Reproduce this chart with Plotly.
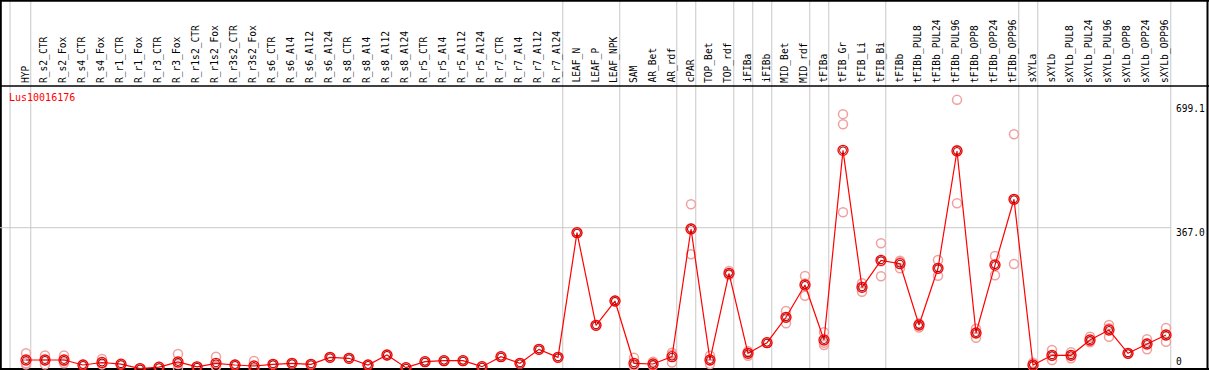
import plotly.graph_objects as go

categories = ["HYP", "R_s2_CTR", "R_s2_Fox", "R_s4_CTR", "R_s4_Fox", "R_r1_CTR", "R_r1_Fox",
              "R_r3_CTR", "R_r3_Fox", "R_r1s2_CTR", "R_r1s2_Fox", "R_r3s2_CTR", "R_r3s2_Fox",
              "R_s6_CTR", "R_s6_Al4", "R_s6_Al12", "R_s6_Al24", "R_s8_CTR", "R_s8_Al4", "R_s8_Al12",
              "R_s8_Al24", "R_r5_CTR", "R_r5_Al4", "R_r5_Al12", "R_r5_Al24", "R_r7_CTR", "R_r7_Al4",
              "R_r7_Al12", "R_r7_Al24", "LEAF_N", "LEAF_P", "LEAF_NPK", "SAM", "AR_Bet", "AR_rdf",
              "cPAR", "TOP_Bet", "TOP_rdf", "iFIBa", "iFIBb", "MID_Bet", "MID_rdf", "tFIBa",
              "tFIB_Gr", "tFIB_Li", "tFIB_Bi", "tFIBb", "tFIBb_PUL8", "tFIBb_PUL24", "tFIBb_PUL96",
              "tFIBb_OPP8", "tFIBb_OPP24", "tFIBb_OPP96", "sXYLa", "sXYLb", "sXYLb_PUL8",
              "sXYLb_PUL24", "sXYLb_PUL96", "sXYLb_OPP8", "sXYLb_OPP24", "sXYLb_OPP96"]

mean_values = [23.4, 23.4, 23.4, 10.4, 16.9, 12.5, 1.0, 4.7, 18.2, 5.7, 14.8, 10.4, 7.8,
               12.2, 14.8, 12.2, 30.3, 27.8, 10.4, 36.4, 3.4, 19.0, 21.6, 21.6, 6.0, 32.0, 14.8,
               51.0, 30.3, 354.0, 113.5, 176.6, 14.8, 13.0, 32.0, 363.6, 23.4, 248.6, 40.8, 68.3,
               134.3, 218.2, 75.3, 568.0, 212.2, 282.3, 273.5, 114.3, 261.6, 566.2, 93.5, 270.0,
               440.8, 10.4, 35.6, 35.6, 75.3, 101.3, 40.8, 64.9, 88.3]

rep1 = [40.8, 35.0, 35.0, 10.0, 26.0, 12.0, 0.5, 4.0, 39.0, 5.0, 32.0, 10.0, 20.8,
        12.0, 14.5, 12.0, 30.0, 27.5, 10.0, 36.0, 3.0, 19.0, 21.0, 21.0, 6.0, 32.0, 14.5,
        51.0, 30.0, 354.0, 113.0, 176.0, 29.0, 19.0, 42.0, 428.0, 34.5, 254.5, 34.5, 68.0,
        150.6, 241.6, 95.3, 662.0, 200.8, 326.5, 281.0, 108.0, 283.0, 699.1, 104.7, 293.5,
        609.6, 16.4, 49.4, 43.4, 83.9, 114.3, 40.0, 77.1, 106.5]
rep2 = [15.0, 12.0, 15.0, 11.0, 12.0, 13.0, 1.0, 5.0, 13.0, 6.0, 6.0, 11.0, 2.0,
        12.5, 15.0, 12.5, 30.5, 28.0, 10.5, 36.5, 3.5, 19.0, 22.0, 22.0, 6.0, 32.0, 15.0,
        51.0, 30.5, 354.0, 114.0, 177.0, 9.0, 8.6, 17.0, 298.0, 13.0, 244.0, 46.0, 69.0,
        118.7, 190.4, 62.3, 635.6, 222.6, 240.8, 261.6, 118.0, 242.3, 430.4, 81.3, 243.4,
        272.7, 7.0, 23.4, 27.8, 69.4, 83.9, 41.0, 51.2, 70.9]
rep3 = [12.0, 23.0, 20.0, 10.0, 13.0, 12.0, 1.5, 5.0, 3.0, 6.0, 7.0, 10.0, 1.0,
        12.0, 15.0, 12.0, 30.0, 28.0, 10.5, 36.0, 3.5, 19.5, 21.5, 21.5, 6.5, 32.0, 15.0,
        51.0, 30.0, 354.0, 113.5, 176.5, 7.0, 11.0, 37.0, 365.0, 23.0, 247.0, 42.0, 68.0,
        134.0, 222.0, 68.0, 407.0, 213.0, 280.0, 278.0, 117.0, 260.0, 569.0, 94.0, 273.0,
        440.0, 8.0, 34.0, 36.0, 72.0, 106.0, 41.0, 66.0, 88.0]

group_edges = [-0.84, 0.25, 28.25, 31.25, 34.25, 35.25, 37.25, 38.25, 39.25, 41.25, 42.25,
               45.25, 52.25, 53.25, 60.25]

gene_label = "Lus10016176"
y_tick_values = [699.1, 367.0, 0]
y_tick_labels = ["699.1", "367.0", "0"]

W, H = 1209, 370
X0, DX = 26.0, 19.0          # pixel of first category, pixel step
Y_ZERO, K = 369.0, 0.385     # pixel of value 0, pixels per unit

x_range = [(0 - X0) / DX, (W - X0) / DX]
y_range = [(Y_ZERO - H) / K, Y_ZERO / K]

xs = list(range(len(categories)))
MONO = "DejaVu Sans Mono"

fig = go.Figure()

rep_x = xs * 3
rep_y = rep1 + rep2 + rep3
fig.add_trace(go.Scatter(
    x=rep_x, y=rep_y, mode="markers",
    marker=dict(symbol="circle-open", size=9, color="#f0a0a0", line=dict(width=1.5)),
    hoverinfo="skip", showlegend=False))

fig.add_trace(go.Scatter(
    x=xs, y=mean_values, mode="lines",
    line=dict(color="#ff0000", width=1.2),
    hoverinfo="skip", showlegend=False))

fig.add_trace(go.Scatter(
    x=xs, y=mean_values, mode="markers",
    marker=dict(symbol="circle-open", size=10, color="#ff0000", line=dict(width=1.3)),
    hoverinfo="skip", showlegend=False))
fig.add_trace(go.Scatter(
    x=xs, y=mean_values, mode="markers",
    marker=dict(symbol="circle-open", size=7, color="#900000", line=dict(width=1)),
    hoverinfo="skip", showlegend=False))

shapes = []
for e in group_edges:
    shapes.append(dict(type="line", xref="x", yref="paper", x0=e, x1=e, y0=0, y1=1,
                       line=dict(color="#c8c8c8", width=1), layer="below"))
# horizontal gridline at 367
shapes.append(dict(type="line", xref="x", yref="y", x0=x_range[0], x1=60.25,
                   y0=y_tick_values[1], y1=y_tick_values[1],
                   line=dict(color="#c8c8c8", width=1), layer="below"))

def px_x(p):
    return p / W

def px_y(p):
    return 1 - p / H

shapes += [
    dict(type="line", xref="paper", yref="paper", x0=px_x(0.8), x1=px_x(0.8), y0=0, y1=1,
         line=dict(color="black", width=2), layer="below"),
    dict(type="line", xref="paper", yref="paper", x0=px_x(1207.5), x1=px_x(1207.5), y0=0, y1=1,
         line=dict(color="black", width=2), layer="below"),
    dict(type="line", xref="paper", yref="paper", x0=0, x1=1, y0=px_y(0.8), y1=px_y(0.8),
         line=dict(color="black", width=2), layer="below"),
    dict(type="line", xref="paper", yref="paper", x0=0, x1=1, y0=px_y(86), y1=px_y(86),
         line=dict(color="black", width=1.5), layer="below"),
    dict(type="line", xref="paper", yref="paper", x0=0, x1=1, y0=px_y(369), y1=px_y(369),
         line=dict(color="black", width=2), layer="below"),
]

annotations = []
for i, c in enumerate(categories):
    annotations.append(dict(x=i, xref="x", y=px_y(84), yref="paper", text=c,
                            textangle=-90, showarrow=False, xanchor="center", yanchor="bottom",
                            xshift=-1, font=dict(family=MONO, size=9.6, color="black"),
                            borderpad=0))
annotations.append(dict(x=px_x(8), xref="paper", y=px_y(97), yref="paper", text=gene_label,
                        showarrow=False, xanchor="left", yanchor="middle",
                        font=dict(family=MONO, size=10, color="#ff0000"), borderpad=0))
for lbl, py in zip(y_tick_labels, [108, 232, 361]):
    annotations.append(dict(x=px_x(1175), xref="paper", y=px_y(py), yref="paper", text=lbl,
                            showarrow=False, xanchor="left", yanchor="middle",
                            font=dict(family=MONO, size=9.6, color="black"), borderpad=0))

fig.update_layout(
    width=W, height=H, margin=dict(l=0, r=0, t=0, b=0),
    paper_bgcolor="white", plot_bgcolor="white",
    xaxis=dict(range=x_range, showgrid=False, zeroline=False, showticklabels=False,
               showline=False, fixedrange=True),
    yaxis=dict(range=y_range, showgrid=False, zeroline=False, showticklabels=False,
               showline=False, fixedrange=True),
    shapes=shapes, annotations=annotations, showlegend=False,
)

fig.write_html("out.html", config={"displayModeBar": False},
               post_script="document.body.style.margin='0';document.body.style.overflow='hidden';")
